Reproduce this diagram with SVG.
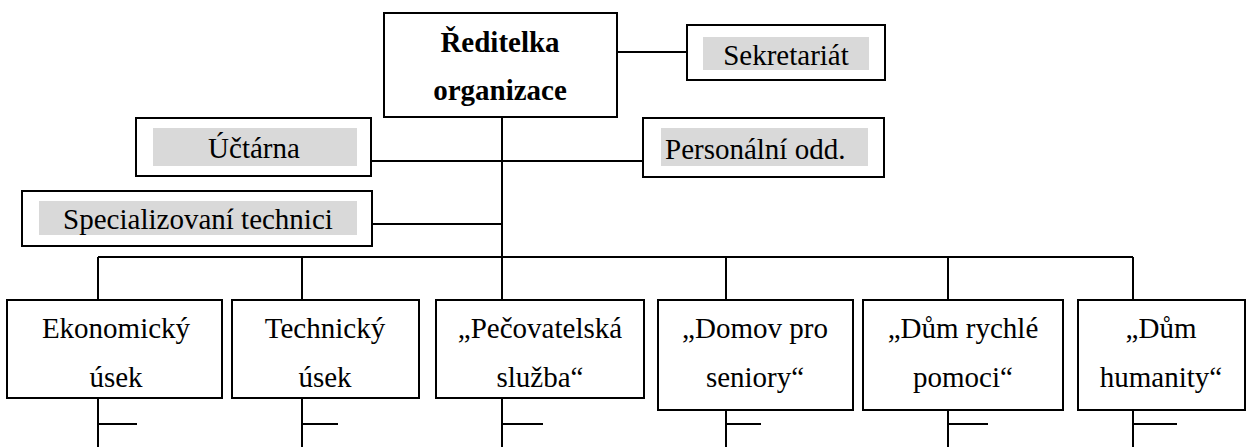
<svg xmlns="http://www.w3.org/2000/svg" width="1253" height="447" viewBox="0 0 1253 447">
<style>
.box{fill:#fff;stroke:#000;stroke-width:2}
.hl{fill:#d9d9d9;stroke:none}
.t{font-family:"Liberation Serif","Times New Roman",serif;font-size:29px;fill:#000;text-anchor:middle}
.b{font-weight:bold}
.ln{stroke:#000;stroke-width:2;fill:none}
</style>
<rect width="1253" height="447" fill="#fff"/>
<g id="connectors">
<line class="ln" x1="617" y1="52" x2="687" y2="52"/>
<line class="ln" x1="502" y1="117" x2="502" y2="257"/>
<line class="ln" x1="371" y1="161" x2="643" y2="161"/>
<line class="ln" x1="372" y1="224" x2="502" y2="224"/>
<line class="ln" x1="98" y1="257" x2="1133" y2="257"/>
<line class="ln" x1="98" y1="257" x2="98" y2="300"/>
<line class="ln" x1="302" y1="257" x2="302" y2="300"/>
<line class="ln" x1="502" y1="257" x2="502" y2="300"/>
<line class="ln" x1="726" y1="257" x2="726" y2="300"/>
<line class="ln" x1="948" y1="257" x2="948" y2="300"/>
<line class="ln" x1="1133" y1="257" x2="1133" y2="300"/>
<line class="ln" x1="98" y1="398" x2="98" y2="447"/>
<line class="ln" x1="98" y1="424" x2="137" y2="424"/>
<line class="ln" x1="302" y1="398" x2="302" y2="447"/>
<line class="ln" x1="302" y1="424" x2="338" y2="424"/>
<line class="ln" x1="502" y1="398" x2="502" y2="447"/>
<line class="ln" x1="502" y1="424" x2="543" y2="424"/>
<line class="ln" x1="726" y1="410" x2="726" y2="447"/>
<line class="ln" x1="726" y1="424" x2="761" y2="424"/>
<line class="ln" x1="948" y1="410" x2="948" y2="447"/>
<line class="ln" x1="948" y1="424" x2="988" y2="424"/>
<line class="ln" x1="1133" y1="410" x2="1133" y2="447"/>
<line class="ln" x1="1133" y1="424" x2="1177" y2="424"/>
</g>
<g id="reditelka">
<rect class="box" x="384" y="13" width="233" height="104"/>
<text class="t b" x="500" y="52">Ředitelka</text>
<text class="t b" x="500" y="100">organizace</text>
</g>
<g id="sekretariat">
<rect class="box" x="687" y="25" width="198" height="55"/>
<rect class="hl" x="703" y="37" width="166" height="33"/>
<text class="t" x="786" y="65">Sekretariát</text>
</g>
<g id="uctarna">
<rect class="box" x="136" y="118" width="235" height="58"/>
<rect class="hl" x="153" y="128" width="204" height="38"/>
<text class="t" x="254" y="158">Účtárna</text>
</g>
<g id="personalni">
<rect class="box" x="643" y="118" width="241" height="59"/>
<rect class="hl" x="661" y="128" width="207" height="38"/>
<text class="t" x="665" y="159" style="text-anchor:start">Personální odd.</text>
</g>
<g id="specializovani">
<rect class="box" x="22" y="191" width="350" height="55"/>
<rect class="hl" x="39" y="201" width="318" height="34"/>
<text class="t" x="198" y="229">Specializovaní technici</text>
</g>
<g id="ekonomicky">
<rect class="box" x="7" y="300" width="215" height="98"/>
<text class="t" x="116" y="338">Ekonomický</text>
<text class="t" x="116" y="387">úsek</text>
</g>
<g id="technicky">
<rect class="box" x="232" y="300" width="187" height="98"/>
<text class="t" x="325" y="338">Technický</text>
<text class="t" x="325" y="387">úsek</text>
</g>
<g id="pecovatelska">
<rect class="box" x="436" y="300" width="208" height="98"/>
<text class="t" x="540" y="338">„Pečovatelská</text>
<text class="t" x="540" y="387">služba“</text>
</g>
<g id="domov">
<rect class="box" x="658" y="300" width="195" height="110"/>
<text class="t" x="755" y="338">„Domov pro</text>
<text class="t" x="755" y="387">seniory“</text>
</g>
<g id="dum-rychle">
<rect class="box" x="863" y="300" width="200" height="110"/>
<text class="t" x="963" y="338">„Dům rychlé</text>
<text class="t" x="963" y="387">pomoci“</text>
</g>
<g id="dum-humanity">
<rect class="box" x="1078" y="300" width="167" height="110"/>
<text class="t" x="1161" y="338">„Dům</text>
<text class="t" x="1161" y="387">humanity“</text>
</g>
</svg>
